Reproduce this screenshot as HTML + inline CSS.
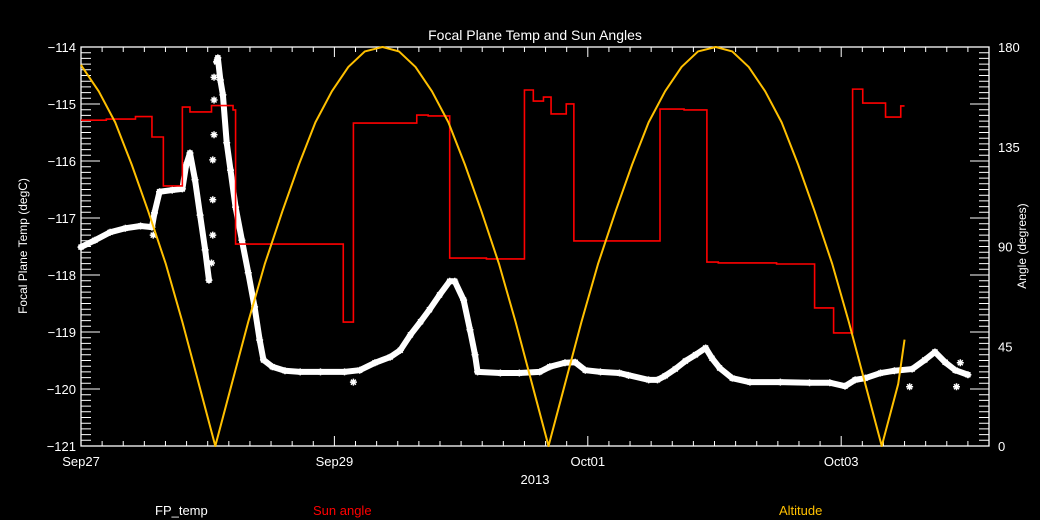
<!DOCTYPE html>
<html><head><meta charset="utf-8"><style>
html,body{margin:0;padding:0;background:#000;}
svg{display:block;font-family:"Liberation Sans",sans-serif;}
</style></head><body>
<svg id="chart" width="1040" height="520" viewBox="0 0 1040 520" xmlns="http://www.w3.org/2000/svg">
<rect x="0" y="0" width="1040" height="520" fill="#000"/>
<text x="535" y="40" fill="#fff" font-size="14" text-anchor="middle">Focal Plane Temp and Sun Angles</text>
<text x="27" y="246" fill="#fff" font-size="12" text-anchor="middle" transform="rotate(-90 27 246)">Focal Plane Temp (degC)</text>
<text x="1026" y="246" fill="#fff" font-size="12" text-anchor="middle" transform="rotate(-90 1026 246)">Angle (degrees)</text>
<text x="535" y="484" fill="#fff" font-size="13" text-anchor="middle">2013</text>
<text x="155" y="515" fill="#fff" font-size="13">FP_temp</text>
<text x="313" y="515" fill="#ff0000" font-size="13">Sun angle</text>
<text x="779" y="515" fill="#ffc000" font-size="13">Altitude</text>
<g id="axes"></g>
<g id="series"></g>
</svg>
<script>
const xTickLabels = ["Sep27","Sep29","Oct01","Oct03"];
const xTickDays = [0,2,4,6];
const yTickLabels = [-114,-115,-116,-117,-118,-119,-120,-121];
const y2TickLabels = [0,45,90,135,180];

const altTimes = [0,0.01,0.14,0.27,0.40,0.53,0.67,0.80,0.93,1.06,
 1.19,1.32,1.45,1.59,1.72,1.85,1.98,2.11,2.24,2.38,2.51,2.64,2.77,2.90,3.03,3.16,3.30,3.43,3.56,3.69,
 3.82,3.95,4.08,4.22,4.35,4.48,4.61,4.74,4.87,5.01,5.14,5.27,5.40,5.53,5.66,5.79,5.93,6.06,6.19,6.32,
 6.45,6.50];
const altValues = [172,171,160,146,127,106,82,56,28,0,
 28,56,82,106,127,146,160,171,178,180,178,171,160,146,127,106,82,56,28,0,
 28,56,82,106,127,146,160,171,178,180,178,171,160,146,127,106,82,56,28,0,
 28,48];

const sunTimes = [0,0.20,0.43,0.56,0.65,0.80,0.86,1.03,1.20,1.22,2.07,2.15,2.65,2.74,2.91,3.20,3.50,3.57,3.65,3.71,3.83,3.89,4.57,4.76,4.94,5.03,5.49,5.79,5.94,6.09,6.17,6.35,6.47,6.50];
const sunValues = [147,147.5,148.6,139.4,117.3,152.9,150.7,153.6,151.6,91.1,55.9,145.7,149.3,148.9,84.8,84.4,160.6,155.6,157.4,149.8,154.3,92.5,152.0,151.6,83.0,82.6,82.1,62.3,51.0,161.0,154.7,148.4,153.4,153.4];

const tempTimes = [0,0.11,0.23,0.35,0.47,0.56,0.58,0.62,0.72,0.80,0.83,0.86,0.90,0.94,0.98,1.01,
 1.07,1.08,1.10,1.12,1.15,1.18,1.22,1.27,1.32,1.37,1.41,1.44,1.51,1.61,1.73,1.89,2.08,2.20,2.32,2.44,2.52,2.60,2.68,2.75,2.83,2.91,2.95,3.02,3.07,3.11,3.13,3.31,3.46,3.62,3.70,3.82,3.90,3.98,4.10,4.25,
 4.48,4.55,4.61,4.69,4.77,4.85,4.93,4.98,5.04,5.14,5.28,5.52,5.75,5.91,6.03,6.11,6.19,6.31,6.42,6.56,6.66,6.74,6.82,6.90,7.00];
const tempValues = [-117.51,-117.39,-117.25,-117.18,-117.14,-117.16,-116.91,-116.54,-116.51,-116.49,-116.07,-115.86,-116.33,-116.95,-117.56,-118.09,
 -114.26,-114.19,-114.58,-114.84,-115.68,-116.16,-116.81,-117.39,-117.96,-118.56,-119.14,-119.49,-119.61,-119.68,-119.70,-119.70,-119.70,-119.67,-119.54,-119.44,-119.32,-119.05,-118.82,-118.61,-118.35,-118.11,-118.11,-118.44,-118.96,-119.40,-119.70,-119.72,-119.72,-119.70,-119.61,-119.54,-119.53,-119.67,-119.70,-119.72,
 -119.84,-119.84,-119.77,-119.65,-119.51,-119.40,-119.28,-119.46,-119.63,-119.81,-119.88,-119.88,-119.89,-119.89,-119.95,-119.84,-119.81,-119.72,-119.68,-119.65,-119.49,-119.35,-119.53,-119.67,-119.75];
const tempSparseTimes = [1.03,1.04,1.04,1.04,1.05,1.05,1.05,0.57,2.15,4.32,6.54,6.91,6.94];
const tempSparseValues = [-117.79,-117.30,-116.68,-115.98,-115.54,-114.93,-114.53,-117.30,-119.88,-119.76,-119.96,-119.96,-119.54];

const X0=81, X1=989, Y0=47, Y1=446, PXDAY=126.7;
function xS(d){return X0+d*PXDAY;}
function yL(t){return Y0+(-114-t)*(Y1-Y0)/7;}
function yR(a){return Y1-a*(Y1-Y0)/180;}

const NS="http://www.w3.org/2000/svg";
const axes=document.getElementById('axes');
const series=document.getElementById('series');
function mk(tag,attrs,parent){const e=document.createElementNS(NS,tag);for(const k in attrs)e.setAttribute(k,attrs[k]);parent.appendChild(e);return e;}

// frame
let fr=mk('rect',{x:X0,y:Y0,width:X1-X0,height:Y1-Y0,fill:'none',stroke:'#fff','stroke-width':1.3},axes);



// left/right ticks (0.1 degC minor)
let td='';
for(let i=0;i<=70;i++){const y=Y0+i*(Y1-Y0)/70;const L=(i%10===0)?19:10;td+=`M${X0} ${y}h${L}M${X1} ${y}h${-L}`;}
// x ticks every 4h
for(let i=0;i*PXDAY/6+X0<=X1+0.5;i++){const x=X0+i*PXDAY/6;const L=(i%12===0)?10:5;td+=`M${x} ${Y1}v${-L}M${x} ${Y0}v${L}`;}
let tp=mk('path',{d:td,stroke:'#fff','stroke-width':1,fill:'none'},axes);



yTickLabels.forEach(v=>{const t=mk('text',{x:X0-5,y:yL(v)+5,fill:'#fff','font-size':13,'text-anchor':'end'},axes);t.textContent=String(v).replace('-','\u2212');

});
y2TickLabels.forEach(v=>{const t=mk('text',{x:X1+9,y:yR(v)+5,fill:'#fff','font-size':13,'text-anchor':'start'},axes);t.textContent=v;

});
xTickLabels.forEach((s,i)=>{const t=mk('text',{x:xS(xTickDays[i]),y:466,fill:'#fff','font-size':13,'text-anchor':'middle'},axes);t.textContent=s;

});

// temp band (connected)
let bd='';let px=null,py=null;
for(let i=0;i<tempTimes.length;i++){const x=xS(tempTimes[i]),y=yL(tempValues[i]);
 if(px!==null&&Math.hypot(x-px,y-py)<60)bd+=`L${x} ${y}`;else bd+=`M${x} ${y}`;px=x;py=y;}
let band=mk('path',{d:bd,stroke:'#fff','stroke-width':6,fill:'none','stroke-linejoin':'round','stroke-linecap':'round'},series);


function star(x,y){return `M${x-3.5} ${y}h7M${x} ${y-3.5}v7M${x-2.5} ${y-2.5}l5 5M${x-2.5} ${y+2.5}l5 -5`;}
let sd='';
for(let i=0;i<tempTimes.length;i++)sd+=star(xS(tempTimes[i]),yL(tempValues[i]));
for(let i=0;i<tempSparseTimes.length;i++)sd+=star(xS(tempSparseTimes[i]),yL(tempSparseValues[i]));
let stars=mk('path',{d:sd,stroke:'#fff','stroke-width':1.5,fill:'none'},series);



// sun angle step
let rd=`M${xS(sunTimes[0])} ${yR(sunValues[0])}`;
for(let i=1;i<sunTimes.length;i++){rd+=`H${xS(sunTimes[i])}V${yR(sunValues[i])}`;}
let red=mk('path',{d:rd,stroke:'#ff0000','stroke-width':1.6,fill:'none'},series);



// altitude
let ad='';
for(let i=0;i<altTimes.length;i++)ad+=(i?'L':'M')+xS(altTimes[i])+' '+yR(altValues[i]);
let alt=mk('path',{d:ad,stroke:'#ffc000','stroke-width':2,fill:'none','stroke-linejoin':'round'},series);


</script>
</body></html>
